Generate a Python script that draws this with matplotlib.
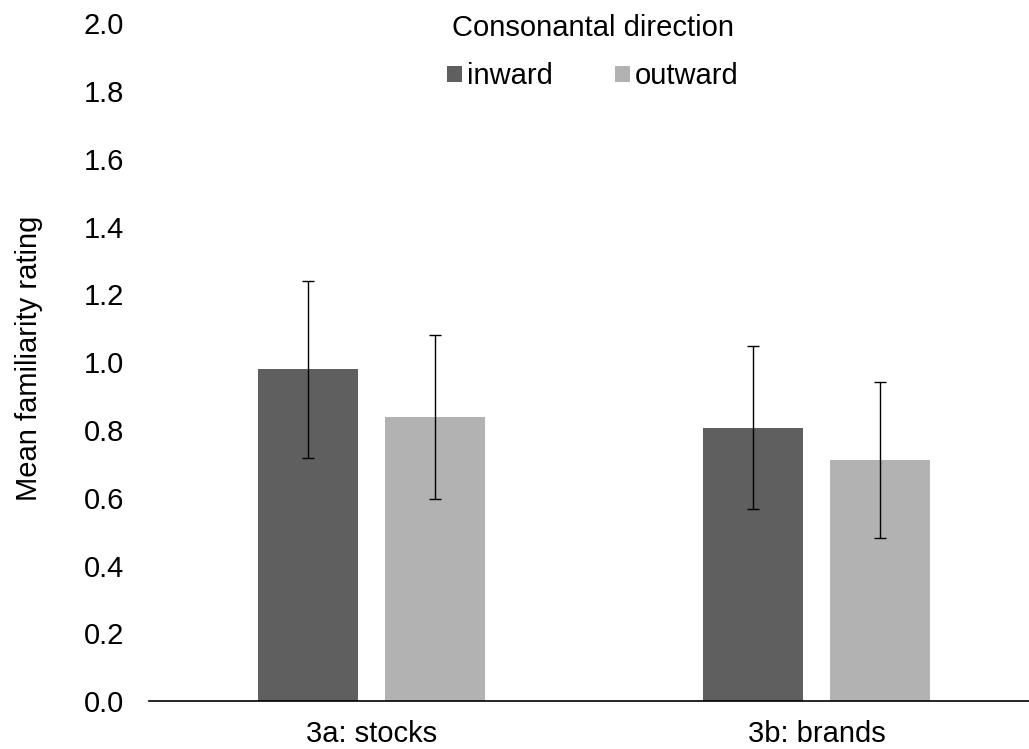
import numpy as np
import matplotlib.pyplot as plt
from matplotlib.patches import Patch

plt.rcParams['font.family'] = ['Liberation Sans', 'DejaVu Sans']

# Mean familiarity ratings with error bar half-widths
studies = ['3a: stocks', '3b: brands']
directions = ['inward', 'outward']
inward_mean = [0.98, 0.807]
outward_mean = [0.839, 0.713]
inward_err = [0.261, 0.241]
outward_err = [0.242, 0.230]
colors = ['#5f5f5f', '#b2b2b2']

FS = 21

fig = plt.figure(figsize=(10.29, 7.49), dpi=100)
ax = fig.add_axes([0.1448, 0.0637, 0.8649, 0.9053])

x = np.arange(len(studies))
width = 0.2247
offset = 0.1425

for means, errs, col, shift in [(inward_mean, inward_err, colors[0], -offset),
                                (outward_mean, outward_err, colors[1], offset)]:
    ax.bar(x + shift, means, width, color=col, zorder=2)
    ax.errorbar(x + shift, means, yerr=errs, fmt='none', ecolor='black',
                elinewidth=1.0, capsize=4.3, capthick=1.0, zorder=3)

ax.set_xlim(-0.5, 1.5)
ax.set_ylim(0, 2.0)
ticks = np.arange(0, 2.01, 0.2)
ax.set_yticks(ticks)
ax.set_yticklabels([f'{v:.1f}' for v in ticks])
ax.set_xticks(x)
ax.set_xticklabels(studies)
ax.tick_params(axis='both', length=0, labelsize=FS, colors='black')
ax.tick_params(axis='y', pad=18)
ax.tick_params(axis='x', pad=13.5)

for side in ['left', 'right', 'top']:
    ax.spines[side].set_visible(False)
ax.spines['bottom'].set_linewidth(1.2)
ax.spines['bottom'].set_color('black')

ax.set_ylabel('Mean familiarity rating', fontsize=FS)
ax.yaxis.set_label_coords(-0.1186, 0.506)

handles = [Patch(facecolor=c, edgecolor='none') for c in colors]
leg = ax.legend(handles, directions, title='Consonantal direction', ncol=2,
                loc='upper center', bbox_to_anchor=(0.4985, 1.052), frameon=False,
                fontsize=FS, title_fontsize=FS, handlelength=0.51, handleheight=0.51,
                handletextpad=0.17, columnspacing=2.12)
leg._legend_box.sep = 14.5

fig.savefig('out.png', dpi=100)
plt.close(fig)
